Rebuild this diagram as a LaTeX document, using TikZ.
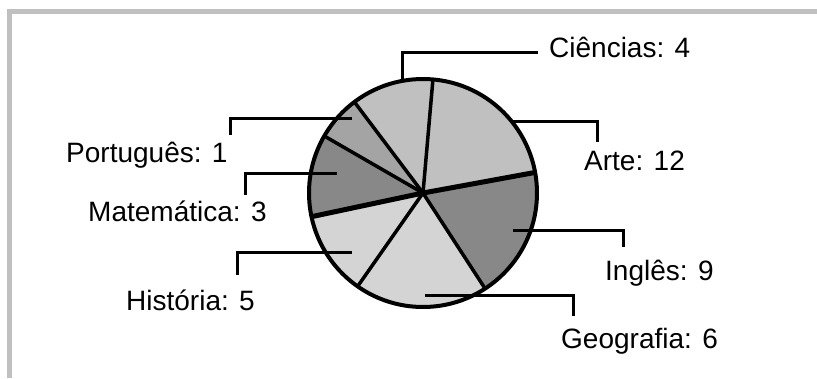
\documentclass[tikz,border=0pt]{standalone}
\usepackage{fontspec}
\setmainfont{Liberation Sans}
\usepackage{tikz}
\usepackage{xcolor}

\definecolor{framegray}{HTML}{C0C0C0}
\definecolor{slicelight}{HTML}{C0C0C0}
\definecolor{slicepale}{HTML}{D4D4D4}
\definecolor{slicemid}{HTML}{A4A4A4}
\definecolor{slicedark}{HTML}{888888}

\begin{document}
\begin{tikzpicture}[x=1pt,y=1pt,
		leader/.style={line width=3pt},
		cut/.style={line width=3.5pt},
		lbl/.style={anchor=base west,inner sep=0pt,font=\fontsize{28}{30}\selectfont}]
			\useasboundingbox (0,0) rectangle (817,-378);
			\fill[white] (0,0) rectangle (817,-378);
			\draw[line width=5pt,framegray] (9.5,-378)--(9.5,-11.5)--(817,-11.5);
			% pie
			\coordinate (c) at (423,-193);
			\fill[slicelight] (c)--++(85:114) arc[start angle=85,end angle=127,radius=114]--cycle;
			\fill[slicelight] (c)--++(10.4:114) arc[start angle=10.4,end angle=85,radius=114]--cycle;
			\fill[slicedark] (c)--++(-57:114) arc[start angle=-57,end angle=10.4,radius=114]--cycle;
			\fill[slicepale] (c)--++(-125:114) arc[start angle=-125,end angle=-57,radius=114]--cycle;
			\fill[slicepale] (c)--++(192:114) arc[start angle=192,end angle=235,radius=114]--cycle;
			\fill[slicedark] (c)--++(150:114) arc[start angle=150,end angle=192,radius=114]--cycle;
			\fill[slicemid] (c)--++(127:114) arc[start angle=127,end angle=150,radius=114]--cycle;
			\draw[cut] (c)--++(85:114);
			\draw[cut] (c)--++(-57:114);
			\draw[cut] (c)--++(-125:114);
			\draw[cut] (c)--++(150:114);
			\draw[cut] (c)--++(127:114);
			\draw[line width=5pt] (c)--++(10.4:114);
			\draw[line width=5pt] (c)--++(192:114);
			\draw[line width=4pt] (c) circle[radius=114];
			% labels
			\node[lbl] (cien) at (549,-57) {Ciências: 4};
			\node[lbl] (arte) at (584,-170) {Arte: 12};
			\node[lbl] (ingl) at (605,-280) {Inglês: 9};
			\node[lbl] (geog) at (561,-348) {Geografia: 6};
			\node[lbl] (hist) at (126,-310) {História: 5};
			\node[lbl] (mate) at (88,-221) {Matemática: 3};
			\node[lbl] (port) at (66,-162) {Português: 1};
			% leaders
			\coordinate (cienA) at (402,-80);
			\coordinate (cienB) at (538,-52);
			\coordinate (arteA) at (512,-121);
			\coordinate (arteB) at (597,-142);
			\coordinate (inglA) at (513,-230);
			\coordinate (inglB) at (623,-247);
			\coordinate (geogA) at (425,-295);
			\coordinate (geogB) at (573,-316);
			\coordinate (histA) at (352,-252);
			\coordinate (histB) at (237,-275);
			\coordinate (mateA) at (337,-173);
			\coordinate (mateB) at (245,-195);
			\coordinate (portA) at (352,-118);
			\coordinate (portB) at (230,-135);
			\draw[leader] (cienA)|-(cienB);
			\draw[leader] (arteA)-|(arteB);
			\draw[leader] (inglA)-|(inglB);
			\draw[leader] (geogA)-|(geogB);
			\draw[leader] (histA)-|(histB);
			\draw[leader] (mateA)-|(mateB);
			\draw[leader] (portA)-|(portB);
		\end{tikzpicture}
\end{document}
